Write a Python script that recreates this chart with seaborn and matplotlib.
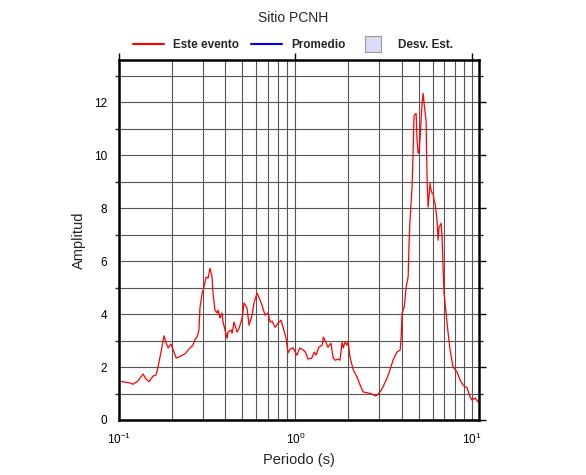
import numpy as np
import pandas as pd
import seaborn as sns
import matplotlib
matplotlib.use("Agg")
import matplotlib.pyplot as plt
from matplotlib.lines import Line2D
from matplotlib.ticker import LogLocator, MultipleLocator, NullFormatter

# Periodo (s) y amplitud (Este evento)
periodo = [0.100, 0.108, 0.115, 0.120, 0.128, 0.137, 0.142, 0.148, 0.156, 0.162,
           0.166, 0.173, 0.180, 0.185, 0.190, 0.197, 0.205, 0.211, 0.222, 0.237,
           0.249, 0.263, 0.270, 0.277, 0.284, 0.288, 0.296, 0.300, 0.312, 0.320,
           0.328, 0.337, 0.341, 0.350, 0.360, 0.364, 0.374, 0.384, 0.389, 0.410,
           0.415, 0.432, 0.438, 0.449, 0.467, 0.480, 0.499, 0.512, 0.532, 0.546,
           0.568, 0.583, 0.606, 0.622, 0.647, 0.673, 0.700, 0.719, 0.738, 0.767,
           0.798, 0.830, 0.852, 0.886, 0.909, 0.933, 0.970, 1.02, 1.06, 1.11,
           1.14, 1.18, 1.24, 1.28, 1.31, 1.36, 1.42, 1.44, 1.49, 1.53,
           1.59, 1.64, 1.68, 1.75, 1.79, 1.84, 1.87, 1.91, 1.97, 1.99,
           2.04, 2.13, 2.24, 2.33, 2.42, 2.59, 2.72, 2.83, 2.91, 3.02,
           3.14, 3.31, 3.44, 3.58, 3.77, 3.93, 3.98, 4.03, 4.14, 4.25,
           4.36, 4.42, 4.47, 4.53, 4.59, 4.65, 4.71, 4.84, 4.90, 4.97,
           5.03, 5.10, 5.23, 5.30, 5.37, 5.51, 5.58, 5.66, 5.81, 5.88,
           5.96, 6.04, 6.12, 6.20, 6.36, 6.45, 6.53, 6.71, 6.79, 6.88,
           6.97, 7.16, 7.35, 7.54, 7.84, 8.26, 8.59, 8.94, 9.42, 9.79,
           10.05, 10.45, 10.87]
amplitud = [1.47, 1.43, 1.40, 1.35, 1.47, 1.74, 1.55, 1.45, 1.66, 1.70,
            1.96, 2.57, 3.18, 2.90, 2.72, 2.87, 2.57, 2.34, 2.40, 2.50,
            2.68, 2.83, 3.06, 3.13, 3.40, 4.26, 4.79, 4.90, 5.40, 5.36,
            5.73, 5.40, 4.79, 4.15, 4.04, 4.15, 3.85, 4.04, 3.70, 3.09,
            3.32, 3.40, 3.28, 3.70, 3.32, 3.47, 3.85, 4.42, 4.23, 3.58,
            3.96, 4.42, 4.79, 4.64, 4.34, 3.96, 4.04, 3.70, 3.74, 3.50,
            3.66, 3.77, 3.50, 3.09, 2.53, 2.68, 2.73, 2.45, 2.72, 2.64,
            2.57, 2.30, 2.34, 2.57, 2.45, 2.75, 2.83, 3.13, 2.94, 2.75,
            2.90, 2.34, 2.26, 2.30, 2.26, 2.94, 2.72, 2.94, 2.83, 2.98,
            2.38, 1.89, 1.62, 1.32, 1.06, 1.02, 0.98, 0.91, 0.94, 1.06,
            1.25, 1.58, 1.89, 2.26, 2.57, 2.64, 3.13, 4.04, 4.26, 5.02,
            5.40, 6.79, 7.55, 8.19, 8.79, 10.08, 11.50, 11.58, 10.57, 10.08,
            10.11, 10.68, 11.96, 12.34, 11.96, 11.32, 9.17, 8.04, 8.94, 8.68,
            8.57, 8.57, 8.30, 8.19, 7.55, 6.79, 7.28, 7.43, 6.91, 5.77,
            4.79, 4.04, 3.28, 2.64, 2.00, 1.81, 1.51, 1.32, 1.21, 0.87,
            0.75, 0.83, 0.68]

leyenda = ["Este evento", "Promedio", "Desv. Est."]

df = pd.DataFrame({"Periodo": periodo, "Amplitud": amplitud})

sns.set_style("white")
plt.rcParams["font.family"] = ["Liberation Sans", "DejaVu Sans"]

fig = plt.figure(figsize=(5.86, 4.75), dpi=100)
ax = fig.add_axes([0.2031, 0.1158, 0.6143, 0.7579])

sns.lineplot(data=df, x="Periodo", y="Amplitud", color="red", lw=0.9,
             sort=False, estimator=None, ax=ax)

ax.set_xscale("log")
ax.set_xlim(0.1, 11.0)
ax.set_ylim(0, 13.6)

ax.xaxis.set_major_locator(LogLocator(base=10))
ax.xaxis.set_minor_locator(LogLocator(base=10, subs=np.arange(2, 10)))
ax.xaxis.set_minor_formatter(NullFormatter())
ax.yaxis.set_major_locator(MultipleLocator(2))
ax.yaxis.set_minor_locator(MultipleLocator(1))

ax.grid(True, which="both", color="#555555", lw=0.8)
ax.set_axisbelow(True)
for s in ax.spines.values():
    s.set_linewidth(1.8)
    s.set_color("black")

ax.tick_params(axis="both", which="major", direction="out", length=5, width=1,
               labelsize=8.5, colors="black")
ax.tick_params(axis="y", which="minor", direction="out", length=3, width=1, left=True)
ax.tick_params(axis="x", which="major", top=True)
ax.tick_params(axis="y", which="both", right=True)

ax.set_xlabel("Periodo (s)", fontsize=10.5)
ax.set_ylabel("Amplitud", fontsize=10.5, labelpad=6)
fig.text(0.5, 0.962, "Sitio PCNH", ha="center", va="center", fontsize=10)

handles = [Line2D([], [], color="red", lw=1.5),
           Line2D([], [], color="blue", lw=1.5),
           Line2D([], [], ls="none", marker="s", markersize=12,
                  markerfacecolor="#dcdcf8", markeredgecolor="#999999",
                  markeredgewidth=0.8)]
fig.legend(handles, leyenda, loc="center", bbox_to_anchor=(0.5, 0.905), ncol=3,
           frameon=False, prop={"weight": "bold", "size": 8.5},
           handlelength=2.6, columnspacing=1.0, handletextpad=0.8)

fig.savefig("out.png", dpi=100)
